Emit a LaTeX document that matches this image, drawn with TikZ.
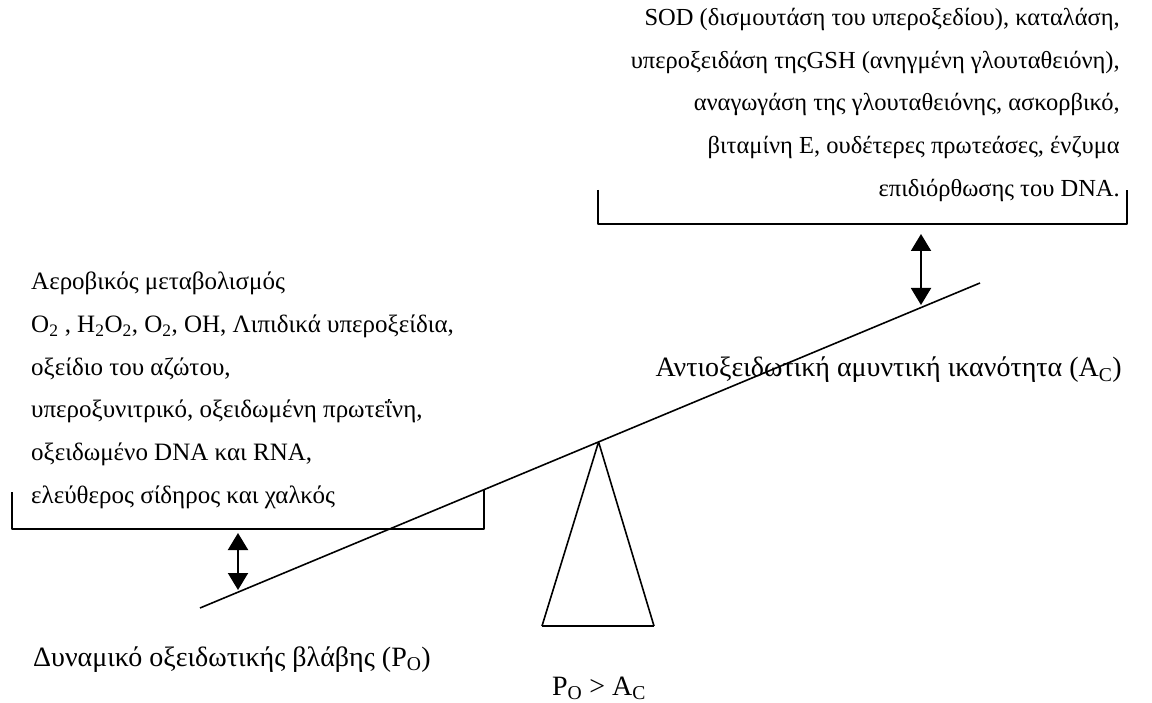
\documentclass[tikz,border=0pt]{standalone}
\usepackage{fontspec}
\setmainfont{Liberation Serif}
\usetikzlibrary{arrows.meta,positioning,calc}
\tikzset{
  txt/.style={inner sep=0pt, font=\fontsize{24.5}{42.7}\selectfont},
  lbl/.style={inner sep=0pt, font=\fontsize{28}{34}\selectfont},
  bar/.style={line width=1.6pt},
  updown/.style={line width=2pt, {Triangle[width=20pt,length=17pt]}-{Triangle[width=20pt,length=17pt]}}
}
\begin{document}
\begin{tikzpicture}[x=1pt, y=-1pt, line join=round]
\useasboundingbox (0,0) rectangle (1152,703);
\node[txt, anchor=north west, align=left, font=\fontsize{25}{42.7}\selectfont] (ros) at (31,272)
  {Αεροβικός μεταβολισμός\\
   O\textsubscript{2} , H\textsubscript{2}O\textsubscript{2}, O\textsubscript{2}, OH, Λιπιδικά υπεροξείδια,\\
   οξείδιο του αζώτου,\\
   υπεροξυνιτρικό, οξειδωμένη πρωτεΐνη,\\
   οξειδωμένο DNA και RNA,\\
   ελεύθερος σίδηρος και χαλκός};
\node[txt, anchor=north east, align=right] (antiox) at (1120,8)
  {SOD (δισμουτάση του υπεροξεδίου), καταλάση,\\
   υπεροξειδάση τηςGSH (ανηγμένη γλουταθειόνη),\\
   αναγωγάση της γλουταθειόνης, ασκορβικό,\\
   βιταμίνη E, ουδέτερες πρωτεάσες, ένζυμα\\
   επιδιόρθωσης του DNA.};
\node[lbl, anchor=base east] (ac) at (1122,377) {Αντιοξειδωτική αμυντική ικανότητα (A\textsubscript{C})};
\node[lbl, anchor=base west] (po) at (33,666) {Δυναμικό οξειδωτικής βλάβης (P\textsubscript{O})};
\node[lbl, anchor=base] (cmp) at (599,695) {P\textsubscript{O} > A\textsubscript{C}};
\coordinate (L)  at (200,608);
\coordinate (R)  at (980,283);
\coordinate (T)  at ($(L)!0.511!(R)$);
\coordinate (T1) at (542,626);
\coordinate (T2) at (654,626);
\coordinate (A1) at (12,492);
\coordinate (A2) at (12,529);
\coordinate (A3) at (484,529);
\coordinate (A4) at (484,489);
\coordinate (B1) at (598,190);
\coordinate (B2) at (598,224);
\coordinate (B3) at (1127,224);
\coordinate (B4) at (1127,190);
\coordinate (u1) at (238,533);
\coordinate (u2) at (238,590);
\coordinate (v1) at (921,234);
\coordinate (v2) at (921,305);
\draw[bar] (L) -- (R);
\draw[bar] (T1) -- (T) -- (T2);
\draw[line width=2.2pt] (T1) -- (T2);
\draw[bar] (A1) -- (A2) -- (A3) -- (A4);
\draw[bar] (B1) -- (B2) -- (B3) -- (B4);
\draw[updown] (u1) -- (u2);
\draw[updown] (v1) -- (v2);
\end{tikzpicture}
\end{document}
